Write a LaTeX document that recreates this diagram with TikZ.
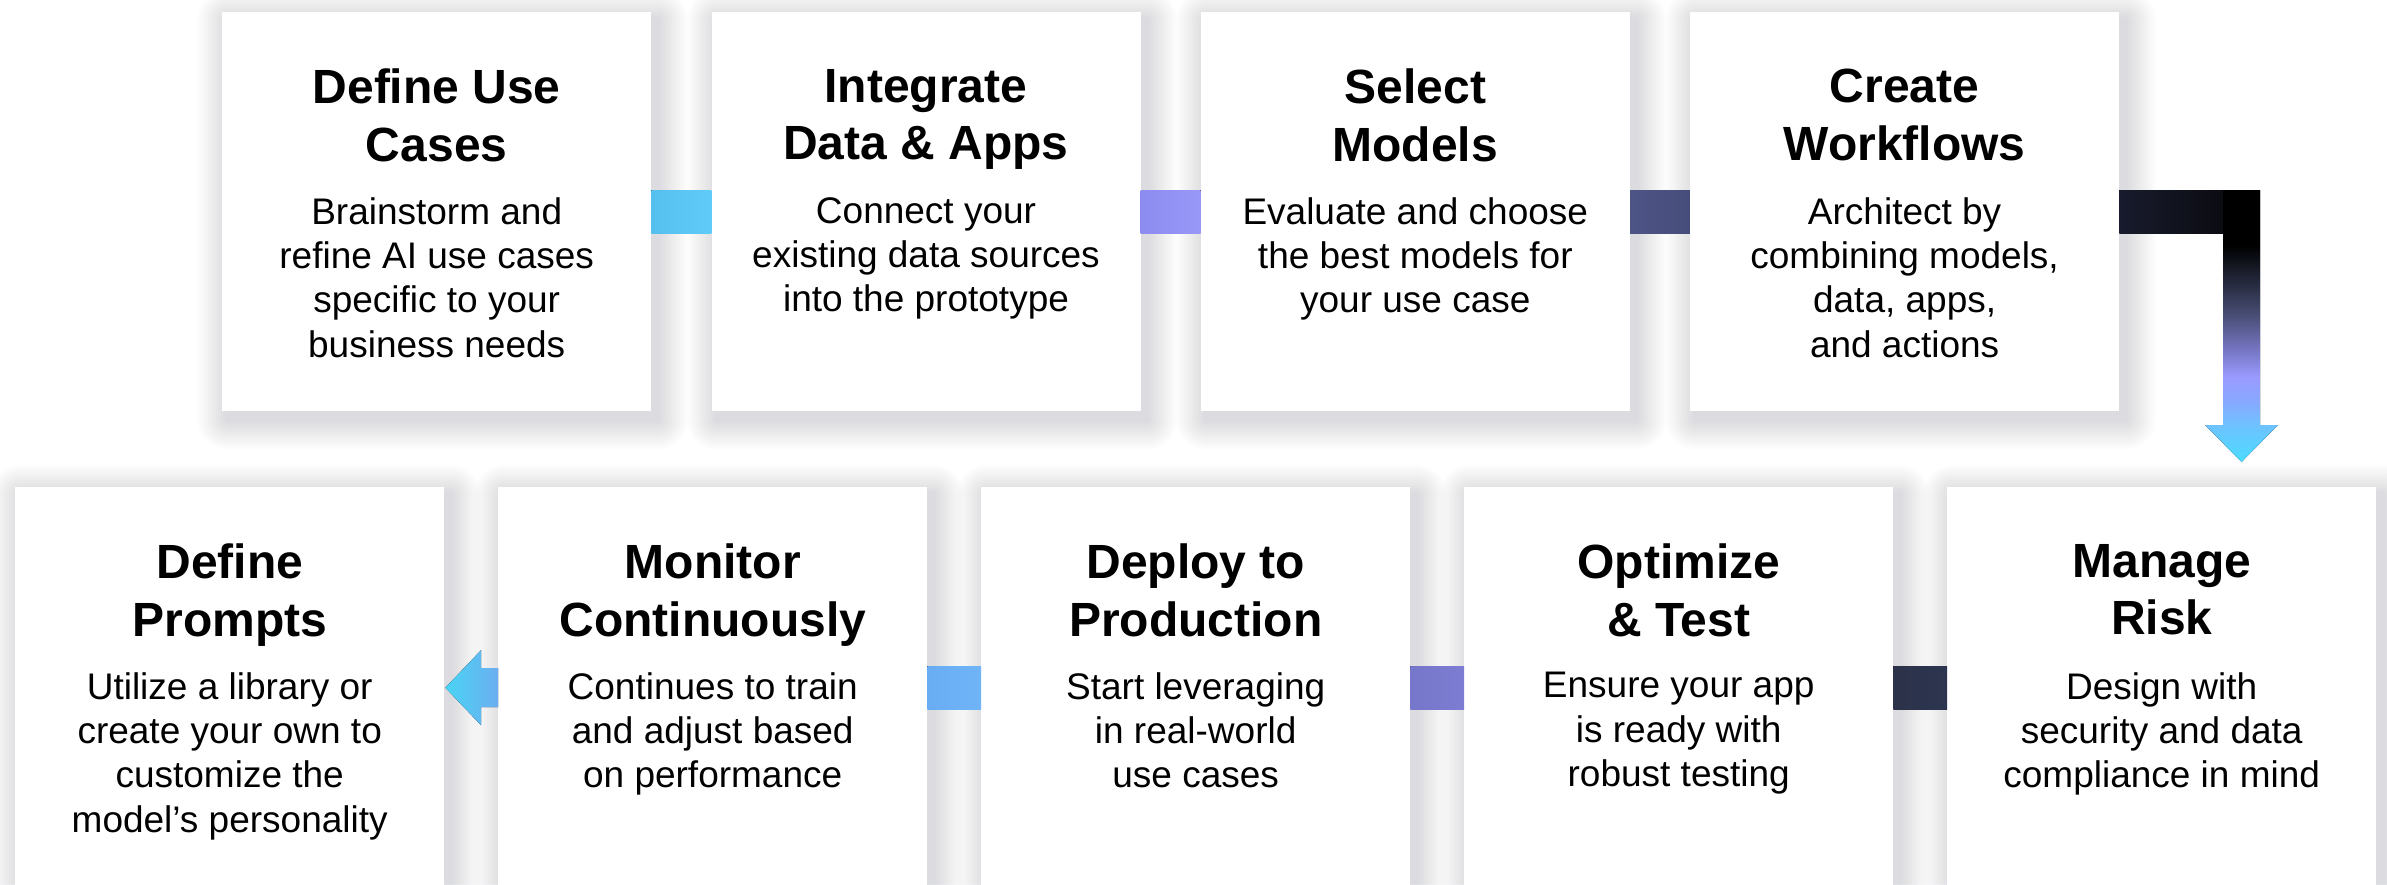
\documentclass[tikz,border=0pt]{standalone}
\usepackage{fontspec}
\setmainfont{Liberation Sans}
\usetikzlibrary{calc}
\definecolor{shadowc}{HTML}{1A2040}
\definecolor{barA}{HTML}{55C0EE}
\definecolor{barAr}{HTML}{60CBF9}
\definecolor{barB}{HTML}{8C8CF0}
\definecolor{barBr}{HTML}{9898F8}
\definecolor{barC}{HTML}{4D5486}
\definecolor{barCr}{HTML}{474D7A}
\definecolor{barDl}{HTML}{181B2D}
\definecolor{barDr}{HTML}{0B0C12}
\definecolor{barE}{HTML}{2D3550}
\definecolor{barEr}{HTML}{2B3249}
\definecolor{barF}{HTML}{7676CA}
\definecolor{barFr}{HTML}{7C7CD2}
\definecolor{barG}{HTML}{68ACF2}
\definecolor{barGr}{HTML}{70B4F8}
\definecolor{arrL}{HTML}{48D4F5}
\definecolor{arrR}{HTML}{6CAEF0}
\definecolor{vA}{HTML}{4ADCFF}
\definecolor{vB}{HTML}{6EC2FF}
\definecolor{vC}{HTML}{86AAFF}
\definecolor{vD}{HTML}{9A9AFF}
\definecolor{vE}{HTML}{7676C4}
\definecolor{vF}{HTML}{4A5078}
\definecolor{vG}{HTML}{262A3E}
\pgfdeclareverticalshading{downgrad}{100bp}{color(0bp)=(vA); color(25bp)=(vA); color(31.8bp)=(vB); color(35.8bp)=(vC); color(40.6bp)=(vD); color(45.6bp)=(vE); color(51.7bp)=(vF); color(57.9bp)=(vG); color(64.9bp)=(black); color(100bp)=(black)}
\pgfdeclarelayer{bg}
\pgfsetlayers{bg,main}
\tikzset{
  card/.style={fill=white, draw=none, minimum width=429pt, inner sep=0pt, anchor=north west},
  topcard/.style={card, minimum height=399pt},
  botcard/.style={card, minimum height=401pt},
  ttl/.style={font=\fontsize{48}{57.6}\selectfont\bfseries, align=center, anchor=north, inner sep=0pt},
  bdy/.style={font=\fontsize{37}{44.4}\selectfont, align=center, anchor=north, inner sep=0pt},
}
\begin{document}
\begin{tikzpicture}[x=1pt,y=-1pt]
\useasboundingbox (0,0) rectangle (2387,884);
\clip (0,0) rectangle (2387,884);
% cards
\node[topcard] (t1) at (222,12) {};
\node[topcard] (t2) at (711.3,12) {};
\node[topcard] (t3) at (1200.6,12) {};
\node[topcard] (t4) at (1689.9,12) {};
\node[botcard] (b1) at (15,487) {};
\node[botcard] (b2) at (498,487) {};
\node[botcard] (b3) at (981,487) {};
\node[botcard] (b4) at (1464,487) {};
\node[botcard] (b5) at (1947,487) {};
% background and shadows
\begin{pgfonlayer}{bg}
\fill[white] (0,0) rectangle (2387,884);
\foreach \n in {t1,t2,t3,t4,b1,b2,b3,b4,b5}{
  \foreach \k in {1,...,12}{
    \pgfmathsetmacro\rr{2.5*\k}
    \fill[shadowc, opacity=0.01, rounded corners=\rr pt]
      ($(\n.north west)+(-\rr+6,-\rr+8)$) rectangle ($(\n.south east)+(\rr+6,\rr+8)$);
  }
}
\end{pgfonlayer}
% texts
\node[ttl] (t1t) at ([yshift=-57pt]t1.north) {Define Use\\Cases};
\node[bdy] (t1b) at ([yshift=-185pt]t1.north) {Brainstorm and\\refine AI use cases\\specific to your\\business needs};
\node[ttl] (t2t) at ([yshift=-57pt]t2.north) {Integrate\\Data \& Apps};
\node[bdy] (t2b) at ([yshift=-185pt]t2.north) {Connect your\\existing data sources\\into the prototype};
\node[ttl] (t3t) at ([yshift=-57pt]t3.north) {Select\\Models};
\node[bdy] (t3b) at ([yshift=-185pt]t3.north) {Evaluate and choose\\the best models for\\your use case};
\node[ttl] (t4t) at ([yshift=-57pt]t4.north) {Create\\Workflows};
\node[bdy] (t4b) at ([yshift=-185pt]t4.north) {Architect by\\combining models,\\data, apps,\\and actions};
\node[ttl] (b1t) at ([yshift=-57pt]b1.north) {Define\\Prompts};
\node[bdy] (b1b) at ([yshift=-185pt]b1.north) {Utilize a library or\\create your own to\\customize the\\model’s personality};
\node[ttl] (b2t) at ([yshift=-57pt]b2.north) {Monitor\\Continuously};
\node[bdy] (b2b) at ([yshift=-185pt]b2.north) {Continues to train\\and adjust based\\on performance};
\node[ttl] (b3t) at ([yshift=-57pt]b3.north) {Deploy to\\Production};
\node[bdy] (b3b) at ([yshift=-185pt]b3.north) {Start leveraging\\in real-world\\use cases};
\node[ttl] (b4t) at ([yshift=-57pt]b4.north) {Optimize\\\& Test};
\node[bdy] (b4b) at ([yshift=-185pt]b4.north) {Ensure your app\\is ready with\\robust testing};
\node[ttl] (b5t) at ([yshift=-57pt]b5.north) {Manage\\Risk};
\node[bdy] (b5b) at ([yshift=-185pt]b5.north) {Design with\\security and data\\compliance in mind};
% top connectors
\fill[left color=barA, right color=barAr] ([yshift=21.5pt]t1.east) rectangle ([yshift=-21.5pt]t2.west);
\fill[left color=barB, right color=barBr] ([yshift=21.5pt]t2.east) rectangle ([yshift=-21.5pt]t3.west);
\fill[left color=barC, right color=barCr] ([yshift=21.5pt]t3.east) rectangle ([yshift=-21.5pt]t4.west);
% L-shaped arrow to Manage Risk
\coordinate (lc) at (2241.5,211.5);
\coordinate (ltip0) at (b5.north -| lc);
\coordinate (ltip) at ([yshift=25pt]ltip0);
\fill[left color=barDl, right color=barDr] ([yshift=21.5pt]t4.east) rectangle ($(lc)+(-18.5,21.5)$);
\fill[shading=downgrad]
  ($(lc)+(-18.5,-21.5)$) -- ($(lc)+(18.5,-21.5)$) -- ($(ltip)+(18.5,-37)$) -- ($(ltip)+(36.5,-37)$)
  -- (ltip) -- ($(ltip)+(-36.5,-37)$) -- ($(ltip)+(-18.5,-37)$) -- cycle;
% bottom connectors
\fill[left color=barEr, right color=barE] ([yshift=21.5pt]b4.east) rectangle ([yshift=-21.5pt]b5.west);
\fill[left color=barF, right color=barFr] ([yshift=21.5pt]b3.east) rectangle ([yshift=-21.5pt]b4.west);
\fill[left color=barG, right color=barGr] ([yshift=21.5pt]b2.east) rectangle ([yshift=-21.5pt]b3.west);
\fill[left color=arrL, right color=arrR]
  ([yshift=19.5pt]b2.west) -- ([xshift=-17pt,yshift=19.5pt]b2.west) -- ([xshift=-17pt,yshift=37.5pt]b2.west)
  -- ([xshift=1pt]b1.east) -- ([xshift=-17pt,yshift=-37.5pt]b2.west) -- ([xshift=-17pt,yshift=-19.5pt]b2.west)
  -- ([yshift=-19.5pt]b2.west) -- cycle;
\end{tikzpicture}
\end{document}
